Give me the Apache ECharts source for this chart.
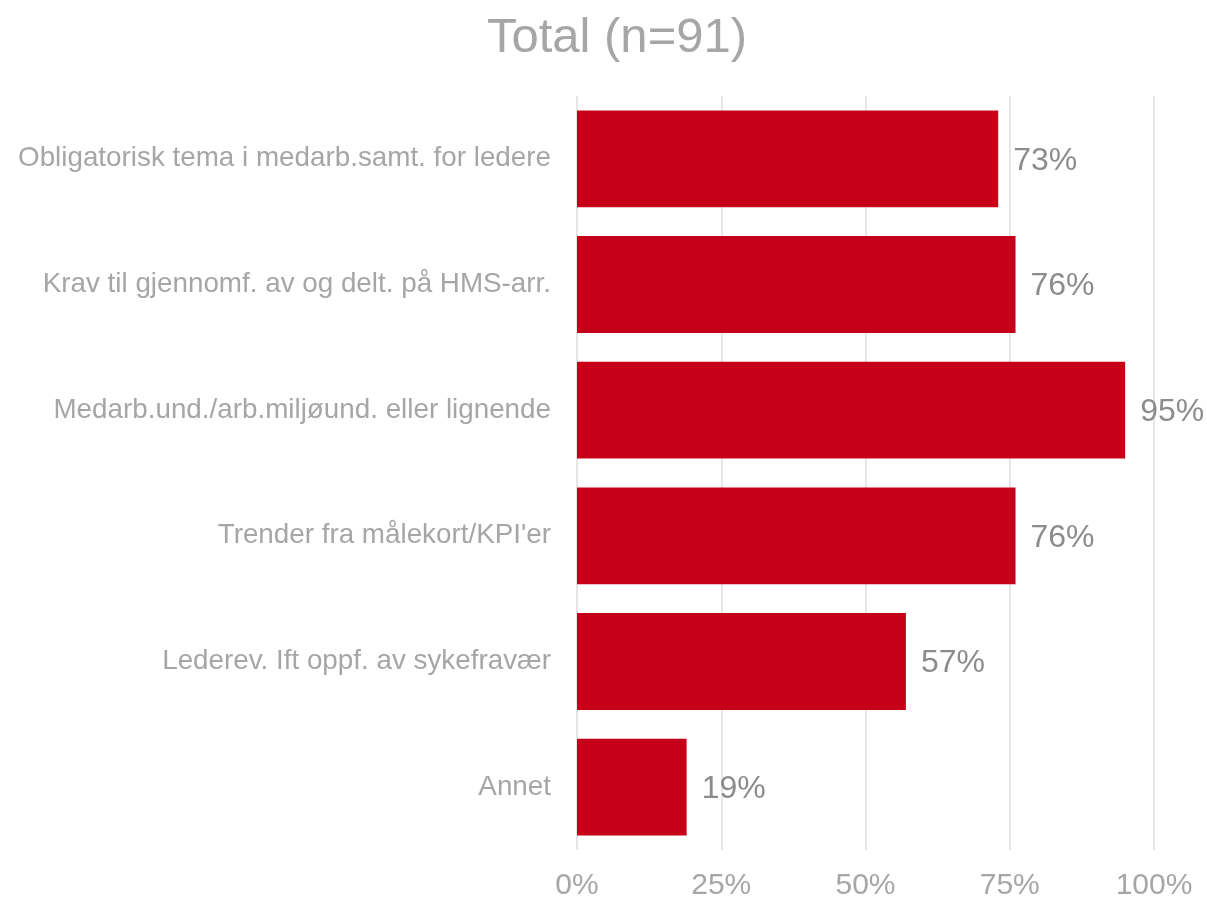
<!DOCTYPE html>
<html>
<head>
<meta charset="utf-8">
<script src="https://cdn.jsdelivr.net/npm/echarts@6/dist/echarts.min.js"></script>
<style>
  html, body { margin: 0; padding: 0; background: #ffffff; }
  #chart { width: 1207px; height: 902px; }
</style>
</head>
<body>
<div id="chart"></div>
<script>
// Categories listed top to bottom
const categories = [
  'Obligatorisk tema i medarb.samt. for ledere',
  'Krav til gjennomf. av og delt. på HMS-arr.',
  'Medarb.und./arb.miljøund. eller lignende',
  "Trender fra målekort/KPI'er",
  'Lederev. Ift oppf. av sykefravær',
  'Annet'
];
// Share of respondents, percent
const values = [73, 76, 95, 76, 57, 19];
const titleText = 'Total (n=91)';

const FONT = 'Liberation Sans, Arial, sans-serif';
const chart = echarts.init(document.getElementById('chart'), null, { renderer: 'canvas' });

chart.setOption({
  backgroundColor: '#ffffff',
  animation: false,
  title: {
    text: titleText,
    left: 612,
    textAlign: 'center',
    top: 9,
    textStyle: {
      fontFamily: FONT,
      fontSize: 49,
      fontWeight: 'normal',
      color: '#a6a6a6'
    }
  },
  grid: {
    left: 577,
    right: 53,
    top: 96,
    bottom: 52,
    containLabel: false
  },
  xAxis: {
    type: 'value',
    min: 0,
    max: 100,
    interval: 25,
    axisLine: { show: false },
    axisTick: { show: false },
    splitLine: { show: true, lineStyle: { color: '#e6e6e6', width: 2 } },
    axisLabel: {
      formatter: '{value}%',
      fontFamily: FONT,
      fontSize: 30,
      color: '#a6a6a6',
      margin: 21
    }
  },
  yAxis: {
    type: 'category',
    data: categories,
    inverse: true,
    axisLine: { show: false },
    axisTick: { show: false },
    axisLabel: {
      fontFamily: FONT,
      fontSize: 27.8,
      color: '#a6a6a6',
      margin: 26
    }
  },
  series: [{
    type: 'bar',
    data: values,
    barCategoryGap: '23%',
    itemStyle: { color: '#c50018' },
    label: {
      show: true,
      position: 'right',
      distance: 15,
      formatter: '{c}%',
      fontFamily: FONT,
      fontSize: 32,
      color: '#8c8c8c',
      offset: [0, 2]
    }
  }]
});
</script>
</body>
</html>
